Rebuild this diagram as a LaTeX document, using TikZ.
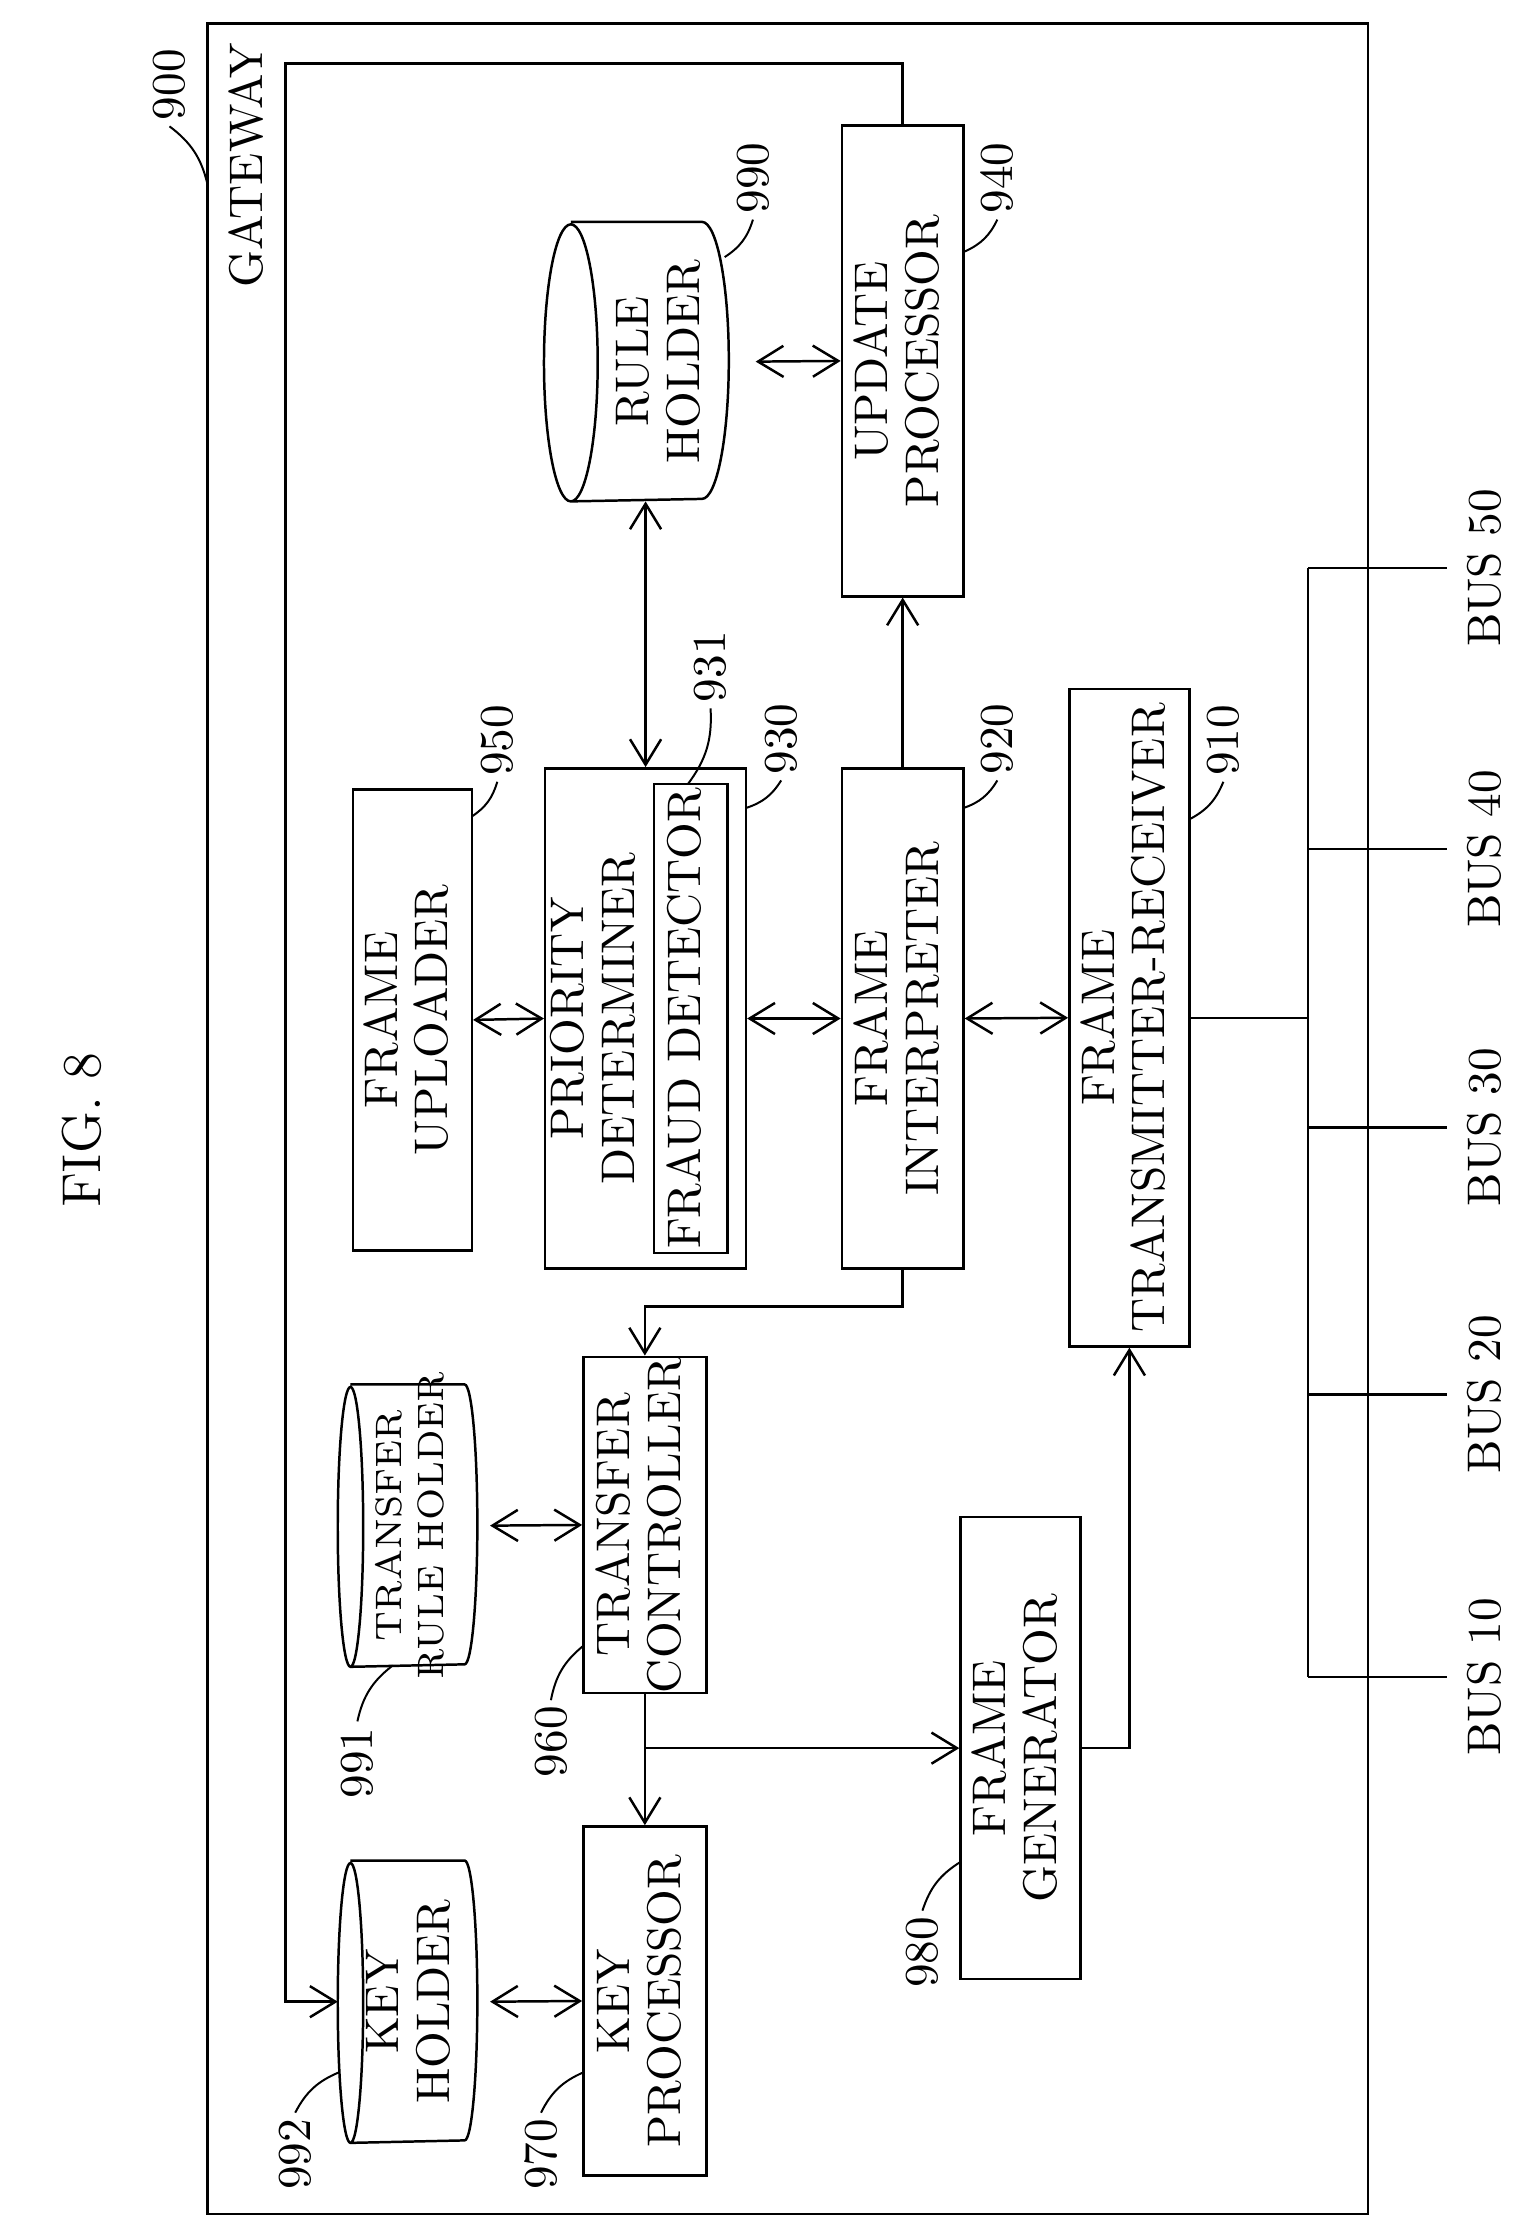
\documentclass[tikz,border=0pt]{standalone}
\usetikzlibrary{arrows.meta}
\usetikzlibrary{positioning}
\tikzset{>={Straight Barb[length=1.8mm,width=2.2mm]}}
\newcommand{\vtext}[1]{\rotatebox{90}{\begin{tabular}{@{}c@{}}#1\end{tabular}}}
% drum outline around a named node: #1 node, #2 end radius (cm), #3 half height (cm)
\newcommand{\drum}[3]{\draw ([xshift=#2 cm]#1.north west) -- ([xshift=-#2 cm]#1.north east)
  arc(90:-90:#2cm and #3cm) -- ([xshift=#2 cm]#1.south west)
  arc(270:90:#2cm and #3cm) arc(90:-90:#2cm and #3cm);}
\tikzstyle{blk}=[draw,rectangle,inner sep=0pt,font=\fontsize{9.5}{10.2}\selectfont]
\tikzstyle{db}=[rectangle,inner sep=0pt,font=\fontsize{9.5}{10.2}\selectfont]
\tikzstyle{num}=[rotate=90,inner sep=1pt,font=\fontsize{9.5}{11}\selectfont]
\tikzstyle{lead}=[line width=0.4pt]

\begin{document}
\begin{tikzpicture}[x=0.01cm,y=-0.01cm,line width=0.5pt]
  \useasboundingbox (0,0) rectangle (1080,1585);
  \node[num,font=\fontsize{11}{13}\selectfont] (fig) at (58,800) {FIG. 8};
  \node[draw,rectangle,minimum width=8.21cm,minimum height=15.5cm] (gw) at (557.5,792) {};
  \node[num] (gwtext) at (174,117) {GATEWAY};

  \node[blk,minimum width=0.84cm,minimum height=3.26cm] (upl) at (292,722) {\vtext{FRAME\\UPLOADER}};
  \node[blk,minimum width=1.42cm,minimum height=3.54cm] (pri) at (457,721) {};
  \node[inner sep=0pt,font=\fontsize{9.5}{10.2}\selectfont] (pritext) at (424,721) {\vtext{PRIORITY\\DETERMINER}};
  \node[blk,minimum width=0.52cm,minimum height=3.32cm] (fd) at (489,721) {\vtext{FRAUD DETECTOR}};
  \node[blk,minimum width=0.86cm,minimum height=3.54cm] (int) at (639,721) {\vtext{FRAME\\INTERPRETER}};
  \node[blk,minimum width=0.85cm,minimum height=4.65cm] (trx) at (799.5,720.5) {\vtext{FRAME\\TRANSMITTER-RECEIVER}};
  \node[db,minimum width=1.29cm,minimum height=1.96cm] (rh) at (450.5,256) {};
  \drum{rh}{0.19}{0.98}
  \node[inner sep=0pt,font=\fontsize{9.5}{10.2}\selectfont] (rhtext) at (470,256) {\vtext{RULE\\HOLDER}};
  \node[blk,minimum width=0.86cm,minimum height=3.33cm] (upd) at (639,255.5) {\vtext{UPDATE\\PROCESSOR}};
  \node[db,minimum width=0.97cm,minimum height=1.98cm] (trh) at (288.5,1080) {};
  \drum{trh}{0.09}{0.99}
  \node[inner sep=0pt,font=\fontsize{7.4}{8.4}\selectfont] (trhtext) at (293,1080) {\vtext{TRANSFER\\RULE HOLDER}};
  \node[blk,minimum width=0.87cm,minimum height=2.27cm] (tc) at (456.5,1079.5) {\vtext{TRANSFER\\CONTROLLER}};
  \node[db,minimum width=0.97cm,minimum height=1.98cm] (kh) at (288.5,1417) {};
  \drum{kh}{0.09}{0.99}
  \node[inner sep=0pt,font=\fontsize{9.5}{10.2}\selectfont] (khtext) at (293,1417) {\vtext{KEY\\HOLDER}};
  \node[blk,minimum width=0.87cm,minimum height=2.47cm] (kp) at (456.5,1416.5) {\vtext{KEY\\PROCESSOR}};
  \node[blk,minimum width=0.85cm,minimum height=3.27cm] (fg) at (722.5,1237.5) {\vtext{FRAME\\GENERATOR}};

  % connections
  \draw[<->] (upl.east) -- (pri.west);
  \draw[<->] (pri.east) -- (int.west);
  \draw[<->] (int.east) -- (trx.west);
  \draw[<->] (pri.north) -- (pri.north |- rh.south);
  \draw[<->] ([xshift=0.19cm]rh.east) -- (upd.west);
  \draw[->] (int.north) -- (upd.south);
  \draw[->] (int.south) -- ++(0,26) -| (tc.north);
  \draw[<->] ([xshift=0.09cm]trh.east) -- (tc.west);
  \draw[<->] ([xshift=0.09cm]kh.east) -- (kp.west);
  \draw[->] (tc.south) -- (kp.north);
  \draw[->] (tc.south |- fg.west) -- (fg.west);
  \draw[->] (fg.east) -| (trx.south);
  \coordinate (fb) at (202,45);
  \draw[->] (upd.north) |- (fb) |- (kh.west);

  % bus
  \coordinate (bt) at (926,402);
  \coordinate (bb) at (926,1187);
  \draw (trx.east) -- (trx.east -| bt);
  \draw (bt) -- (bb);
  \foreach \y/\n in {402/50,601/40,798/30,987/20,1187/10} {
    \draw (926,\y) -- (1024,\y);
    \node[num] (bus\n) at (1051,\y) {BUS \n};
  }

  % reference numerals
  \foreach \n/\lx/\ly/\px/\py/\a in {900/120/60/147/131/west,990/533/126/513/182/west,
      940/706/126/683/178/west,950/352/524/334/578/west,931/503/472/487/555/west,
      930/553/523/528/572/west,920/706/523/682/572/west,910/866/524/842/580/west,
      991/253/1248/278/1179/east,960/390/1233/413/1165/east,992/209/1525/240/1467/east,
      970/383/1525/413/1467/east,980/653/1382/680/1318/east} {
    \node[num] (n\n) at (\lx,\ly) {\n};
    \draw[lead] (n\n.\a) to[bend left=20] (\px,\py);
  }
\end{tikzpicture}
\end{document}
